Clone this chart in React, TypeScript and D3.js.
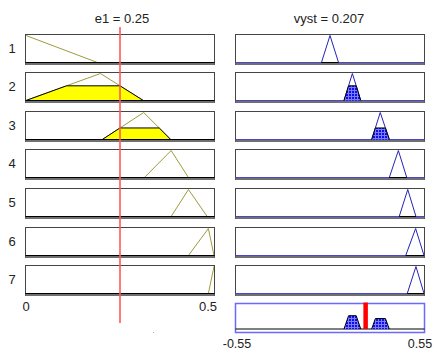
import React from 'react';
import * as d3 from 'd3';

// input e1 membership functions (trimf a, b, c)
const inputMFs: number[][] = [
  [-0.19, 0, 0.19],
  [0, 0.198, 0.312],
  [0.203, 0.313, 0.385],
  [0.315, 0.386, 0.432],
  [0.386, 0.432, 0.482],
  [0.432, 0.485, 0.5],
  [0.485, 0.5, 0.55],
];

// output vyst membership functions
const outputMFs: number[][] = [
  [-0.05, 0, 0.05],
  [0.082, 0.131, 0.18],
  [0.244, 0.294, 0.347],
  [0.347, 0.4, 0.449],
  [0.405, 0.455, 0.503],
  [0.443, 0.501, 0.55],
  [0.452, 0.503, 0.55],
];

const ruleLabels = ['1', '2', '3', '4', '5', '6', '7'];
const e1 = 0.25;
const vyst = 0.207;
const inDomain = [0, 0.5];
const outDomain = [-0.55, 0.55];
const inTicks = ['0', '0.5'];
const outTicks = ['-0.55', '0.55'];

const W = 433;
const H = 351;

function trimf(x: number, p: number[]) {
  const [a, b, c] = p;
  if (x <= a || x >= c) return 0;
  if (x <= b) return b === a ? 1 : (x - a) / (b - a);
  return c === b ? 1 : (c - x) / (c - b);
}

function clipped(p: number[], h: number): [number, number][] {
  const [a, b, c] = p;
  return [
    [a, 0],
    [a + h * (b - a), h],
    [c - h * (c - b), h],
    [c, 0],
  ];
}

export default function App() {
  const xIn = d3.scaleLinear().domain(inDomain).range([26, 214]);
  const xOut = d3.scaleLinear().domain(outDomain).range([236, 424]);
  const rowTop = (i: number) => Math.round(33.5 + i * 38.6) + 0.5;
  const ph = 30;
  const font = '"Liberation Sans", Arial, sans-serif';

  const firing = inputMFs.map((p) => trimf(e1, p));

  const aggTop = 303.5;
  const aggBot = 332.5;

  return (
    <svg width={W} height={H} style={{ position: 'absolute', left: 0, top: 0, background: '#fff' }}>
      <defs>
        <pattern id="grid" width="3" height="3" patternUnits="userSpaceOnUse">
          <rect width="3" height="3" fill="#1010ee" />
          <path d="M0 0.5 H3 M0.5 0 V3" stroke="#7c7cff" strokeWidth="1" />
        </pattern>
        <clipPath id="clipIn">
          <rect x={26} y={0} width={188} height={H} />
        </clipPath>
        <clipPath id="clipOut">
          <rect x={236} y={0} width={188} height={H} />
        </clipPath>
      </defs>

      <text x={122} y={23} textAnchor="middle" fontFamily={font} fontSize={13} fill="#222">
        e1 = 0.25
      </text>
      <text x={329} y={23} textAnchor="middle" fontFamily={font} fontSize={13} fill="#222">
        vyst = 0.207
      </text>

      {inputMFs.map((p, i) => {
        const top = rowTop(i);
        const y = d3.scaleLinear().domain([0, 1]).range([top + 28, top + 1]);
        const line = d3.line<[number, number]>().x((d) => xIn(d[0])).y((d) => y(d[1]));
        const oline = d3.line<[number, number]>().x((d) => xOut(d[0])).y((d) => y(d[1]));
        const op = outputMFs[i];
        const f = firing[i];
        return (
          <g key={i}>
            <text x={12} y={top + 18} textAnchor="middle" fontFamily={font} fontSize={13} fill="#222">
              {ruleLabels[i]}
            </text>
            {/* input panel */}
            <rect x={25.5} y={top} width={189} height={ph} fill="#fff" stroke="#454545" />
            <g clipPath="url(#clipIn)">
              <path
                d={line([[p[0], 0], [p[1], 1], [p[2], 0]]) || ''}
                fill="none"
                stroke="#9c9c3c"
                strokeWidth={1}
              />
              {f > 0 && (
                <path
                  d={line(clipped(p, f)) || ''}
                  fill="#ffff00"
                  stroke="#000"
                  strokeWidth={1}
                />
              )}
            </g>
            <line x1={25.5} x2={214.5} y1={top + 28} y2={top + 28} stroke="#000" />
            <line x1={25.5} x2={214.5} y1={top + 29.5} y2={top + 29.5} stroke="#707070" strokeWidth={2} />

            {/* output panel */}
            <rect x={235.5} y={top} width={189} height={ph} fill="#fff" stroke="#454545" />
            <line x1={235.5} x2={424.5} y1={top + 28} y2={top + 28} stroke="#4848c8" />
            <line x1={235.5} x2={424.5} y1={top + 29.5} y2={top + 29.5} stroke="#707070" strokeWidth={2} />
            <g clipPath="url(#clipOut)">
              <path
                d={oline([[op[0], 0], [op[1], 1], [op[2], 0]]) || ''}
                fill="none"
                stroke="#2424b4"
                strokeWidth={1}
              />
              {f > 0 ? (
                <path d={oline(clipped(op, f)) || ''} fill="url(#grid)" stroke="#000" strokeWidth={1} />
              ) : (
                <line x1={xOut(op[0])} x2={xOut(op[2])} y1={top + 28} y2={top + 28} stroke="#000" />
              )}
            </g>
          </g>
        );
      })}

      {/* aggregated output */}
      {(() => {
        const y = d3.scaleLinear().domain([0, 1]).range([aggBot - 3.5, aggTop + 1]);
        const line = d3.line<[number, number]>().x((d) => xOut(d[0])).y((d) => y(d[1]));
        return (
          <g>
            <rect x={235.5} y={aggTop} width={189} height={aggBot - aggTop} fill="#fff" stroke="#6a6aff" strokeWidth={1.5} />
            <line x1={235.5} x2={424.5} y1={aggBot - 3.5} y2={aggBot - 3.5} stroke="#000" />
            {outputMFs.map((op, i) =>
              firing[i] > 0 ? (
                <path key={i} d={line(clipped(op, firing[i])) || ''} fill="url(#grid)" stroke="#000" strokeWidth={1} />
              ) : null
            )}
            <rect x={xOut(vyst) - 2} y={aggTop - 1} width={4.5} height={aggBot - aggTop - 2.5} fill="#ff0000" />
          </g>
        );
      })()}

      {/* input value line */}
      <line x1={xIn(e1)} x2={xIn(e1)} y1={27} y2={323} stroke="#ff5a5a" strokeWidth={1.6} />
      <rect x={153} y={332} width={1} height={1} fill="#ff8080" />

      <text x={26} y={311} textAnchor="middle" fontFamily={font} fontSize={13} fill="#222">
        {inTicks[0]}
      </text>
      <text x={208} y={311} textAnchor="middle" fontFamily={font} fontSize={13} fill="#222">
        {inTicks[1]}
      </text>
      <text x={237} y={348} textAnchor="middle" fontFamily={font} fontSize={12.5} fill="#222">
        {outTicks[0]}
      </text>
      <text x={420} y={348} textAnchor="middle" fontFamily={font} fontSize={12.5} fill="#222">
        {outTicks[1]}
      </text>
    </svg>
  );
}
